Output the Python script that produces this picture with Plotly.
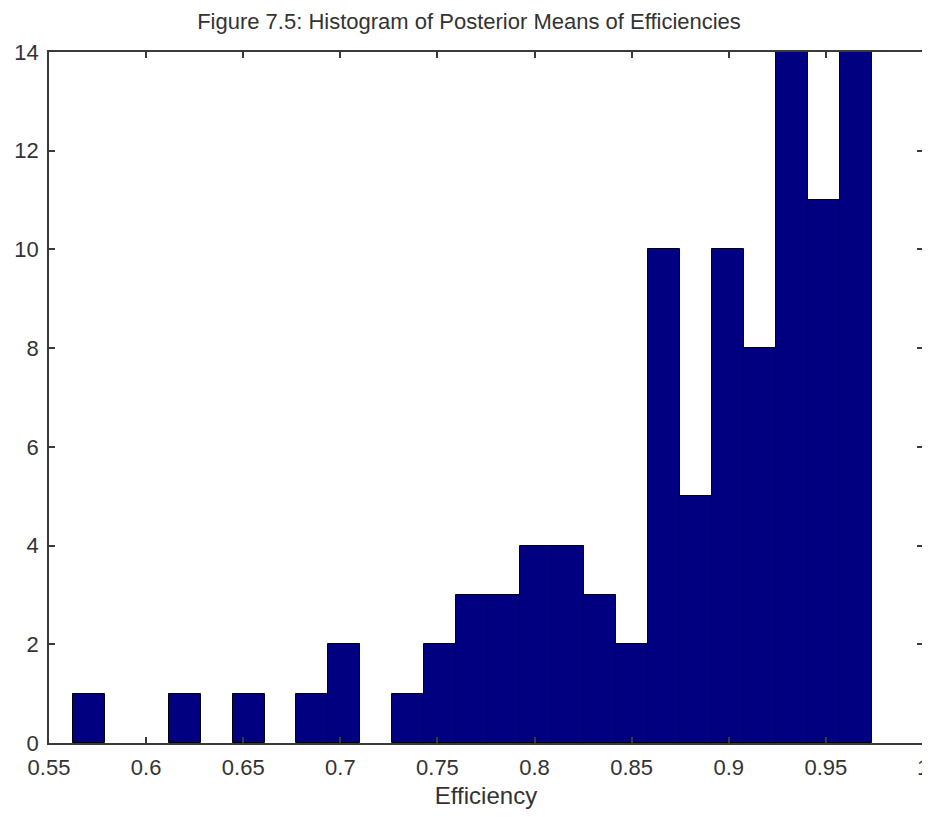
import plotly.graph_objects as go

# Data
counts = [1, 0, 0, 1, 0, 1, 0, 1, 2, 0, 1, 2, 3, 3, 4, 4, 3, 2, 10, 5, 10, 8, 14, 11, 14]
bin_start = 0.5622
bin_width = 0.01646
x_ticks = [0.55, 0.6, 0.65, 0.7, 0.75, 0.8, 0.85, 0.9, 0.95, 1.0]
x_tick_text = ["0.55", "0.6", "0.65", "0.7", "0.75", "0.8", "0.85", "0.9", "0.95", "1"]
y_ticks = [0, 2, 4, 6, 8, 10, 12, 14]

centers = [bin_start + bin_width * (i + 0.5) for i in range(len(counts))]
# empty bins are not drawn at all in the reference
shown = [c if c > 0 else None for c in counts]

fig = go.Figure(go.Bar(
    x=centers, y=shown, width=[bin_width] * len(counts),
    marker=dict(color="#000080", line=dict(color="#000000", width=1)),
))

FONT = "Liberation Sans, Arial"
axis_common = dict(
    showline=True, linecolor="#3a3a3a", linewidth=1.5, mirror="ticks",
    ticks="inside", ticklen=6, tickcolor="#3a3a3a", tickwidth=1.5,
    showgrid=False, zeroline=False, automargin=False,
    ticklabeloverflow="allow",
    tickfont=dict(family=FONT, size=22, color="#333333"),
)

W, H = 922, 801
fig.update_layout(
    width=W, height=H,
    margin=dict(l=41, r=7, t=44, b=66),
    paper_bgcolor="white", plot_bgcolor="white",
    showlegend=False,
    bargap=0,
    title=dict(text="Figure 7.5: Histogram of Posterior Means of Efficiencies",
               x=0.5, xanchor="center", y=1 - 13 / H, yanchor="middle", yref="container",
               automargin=False,
               font=dict(family=FONT, size=22, color="#333333")),
    xaxis=dict(range=[0.55, 1.0], tickvals=x_ticks, ticktext=x_tick_text,
               ticklabelstandoff=4,
               title=dict(text="Efficiency", standoff=12,
                          font=dict(family=FONT, size=24, color="#333333")),
               **axis_common),
    yaxis=dict(range=[0, 14], tickvals=y_ticks, ticklabelstandoff=4, **axis_common),
)

fig.write_html("out.html")
